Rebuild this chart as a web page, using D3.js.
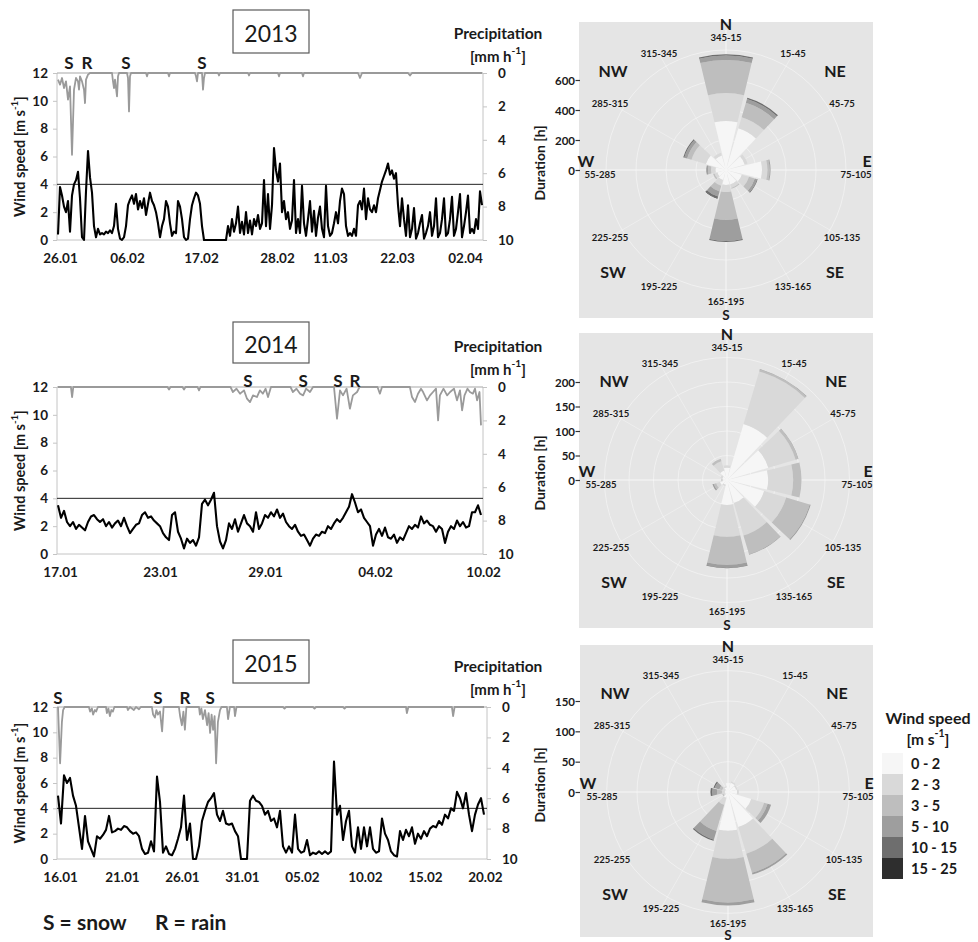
<!DOCTYPE html>
<html><head><meta charset="utf-8">
<script src="https://cdn.jsdelivr.net/npm/d3@7"></script>
<style>
body{margin:0;background:#fff;}
svg text{font-family:Lato,"Open Sans","DejaVu Sans",sans-serif;fill:#1a1a1a;}
</style></head><body>
<svg id="chart" width="978" height="942"></svg>
<script>
// ---------------- DATA ----------------
// Wind speed [m/s], 2013 (equal time steps)
const wind2013 = [0.4,3.8,3.2,2.4,2.0,2.8,0.6,3.2,4.0,4.3,
4.9,3.0,0.2,0.0,3.5,6.4,4.5,3.4,1.0,0.2,
0.8,0.4,0.5,0.4,0.6,0.5,0.7,0.5,1.0,2.6,
0.8,0.1,0.0,0.2,1.0,2.5,2.9,3.2,2.6,3.3,
2.2,2.8,2.3,3.0,1.8,2.6,3.4,2.8,2.5,2.0,
1.2,0.2,1.0,1.5,2.8,2.4,1.2,0.3,0.6,0.5,
2.8,2.4,1.5,0.2,0.0,0.1,1.5,2.5,3.0,3.4,
3.2,2.6,1.0,0.0,0.0,0.0,0.0,0.0,0.0,0.0,
0.0,0.0,0.0,0.0,0.0,1.0,0.3,1.5,0.6,1.2,
2.4,0.5,1.3,0.4,2.0,0.5,1.4,0.4,1.5,1.0,
1.8,0.8,1.2,4.3,1.0,3.3,0.8,2.5,6.6,5.0,
4.2,5.5,2.0,2.8,1.5,2.0,0.8,1.4,4.3,0.5,
1.5,0.5,3.9,1.2,0.3,1.5,2.8,0.6,2.1,0.3,
1.6,2.4,0.8,0.2,3.9,1.0,0.3,0.5,1.2,2.0,
1.2,2.8,3.7,3.3,1.0,0.3,0.5,0.3,0.8,0.3,
2.5,2.8,2.2,3.7,1.5,3.0,2.2,2.0,2.5,2.0,
3.0,3.6,4.2,4.6,5.0,5.5,4.7,5.0,4.4,4.8,
2.5,1.0,3.0,1.5,0.3,2.5,0.2,0.8,2.3,0.1,
0.5,1.2,1.8,0.1,0.5,1.0,2.0,0.3,1.0,3.0,
0.2,0.5,1.5,3.0,0.3,0.5,1.5,3.1,0.3,0.8,
2.0,3.3,0.2,1.0,2.0,3.2,0.5,0.8,0.5,1.5,
0.8,3.5,2.5];
// Precipitation [mm/h], 2013 : [time step, value]
const precip2013 = [[0,0.4],[1,0.7],[2,0.3],[3,0.9],[4,0.5],[5,1.6],[6,0.8],[7,4.9],[8,1.0],[9,0.3],[10,0.5],[10.5,1.0],[11,0.2],[12,0.5],[13,1.0],[13.5,1.8],[14,0.4],[15,0.1],[16,0],[27,0],[27.5,0.5],[28,0.9],[28.5,0.4],[29.5,1.4],[30,0.2],[30.5,0],[34.5,0],[35,0.3],[35.5,2.3],[36,0.2],[36.5,0],[44,0],[44.5,0.2],[45,0],[55,0],[55.5,0.2],[56,0],[68.5,0],[69,0.2],[69.5,0.5],[70,0],[72,0],[72.5,1.0],[73,0.3],[73.5,0],[80,0],[80.5,0.15],[81,0],[95,0],[95.5,0.15],[96,0],[110,0],[110.5,0.2],[111,0],[122,0],[122.5,0.2],[123,0],[150,0],[151,0.3],[152,0],[175,0],[176,0.15],[177,0],[212,0]];
const tickSteps2013 = [1,34.5,71.5,109.5,136,169.5,203.5];
const tickLabels2013 = ["26.01","06.02","17.02","28.02","11.03","22.03","02.04"];
const events2013 = [["S",5.5],["R",14.5],["S",34],["S",72]];

const wind2014 = [3.5,2.6,3.1,2.3,2.0,2.3,1.8,2.1,1.9,1.7,
2.3,2.7,2.8,2.5,2.3,2.5,2.0,2.3,1.9,2.2,
2.4,2.0,2.6,2.0,1.5,1.8,2.1,2.2,2.8,3.0,
2.6,2.7,2.4,2.2,2.0,1.5,1.2,1.0,2.8,3.0,
1.6,1.1,0.4,1.1,0.8,1.0,0.6,1.2,3.6,3.9,
3.5,3.9,4.4,2.0,0.9,0.4,1.0,2.2,1.8,2.5,
1.6,2.2,2.8,2.2,2.0,1.6,3.0,1.8,2.2,2.8,
2.6,3.0,2.7,3.2,2.6,2.9,2.3,2.0,1.8,2.1,
1.6,1.3,1.4,1.0,0.6,1.1,1.4,1.3,1.6,1.5,
2.0,1.8,2.2,2.5,2.3,2.6,3.0,3.4,4.3,3.7,
3.0,3.2,2.6,2.3,2.0,0.6,1.4,1.8,1.3,1.9,
1.2,1.1,1.4,0.8,1.2,1.0,1.5,2.0,1.8,2.1,
1.9,2.7,2.2,2.4,2.1,2.0,1.6,2.0,1.8,0.8,
1.6,2.0,1.8,2.4,2.0,2.3,1.9,2.0,3.0,3.0,
3.5,2.8];
const precip2014 = [[0,0],[4.3,0],[4.7,0.6],[5.1,0],[36.5,0],[37,0.15],[37.5,0],[41.5,0],[42,0.15],[42.5,0],[46.5,0],[47,0.2],[47.5,0],[57.5,0],[58.3,0.3],[59.5,0.1],[60.7,0.4],[62,0.2],[63,0.7],[64,0.9],[65,0.5],[66.3,0.6],[67.3,0.2],[68.3,0.4],[69.2,0.1],[70,0.6],[71,0],[77.5,0],[78.3,0.3],[79.5,0.1],[80.7,0.4],[81.7,0.5],[82.7,0.1],[84,0.3],[85,0],[92,0],[93,1.9],[94,0.2],[95,0.5],[96.2,0.1],[97.3,1.3],[98.3,0.5],[99.7,0.3],[100.5,0],[106.5,0],[107.3,0.4],[108,0],[117.3,0],[118,0.6],[119,0.9],[120,0.4],[121,0.1],[121.7,0.3],[123,0.8],[124,0.5],[125,0.3],[126,0.1],[126.7,2.0],[127.3,0.5],[128.5,0.1],[129.7,0.5],[130.7,0.3],[132,0.1],[133,0.8],[134,0.2],[134.7,1.4],[135.5,0.5],[136.5,0.1],[137.3,0.3],[138.3,0.4],[139,0.1],[139.7,0.8],[140.5,0.3],[141,2.3]];
const tickSteps2014 = [0.7,34,69,105.7,141.7];
const tickLabels2014 = ["17.01","23.01","29.01","04.02","10.02"];
const events2014 = [["S",63.3],["S",81.7],["S",93.3],["R",99]];

const wind2015 = [5.0,2.8,6.6,6.0,6.4,5.0,4.2,2.5,0.8,3.4,
1.4,0.8,0.2,1.8,1.6,1.9,2.3,3.4,2.1,2.2,
2.4,2.3,2.6,2.5,2.2,2.0,2.1,1.8,0.8,0.4,
0.5,1.4,0.6,6.5,4.5,0.5,1.0,0.4,0.3,0.8,
1.6,2.5,5.0,1.5,2.8,0.0,0.0,1.0,3.0,3.8,
4.5,4.8,5.2,3.5,3.0,3.8,2.8,2.7,2.8,2.2,
1.8,0.0,0.0,0.0,4.6,5.0,4.6,4.5,4.2,3.5,
3.8,3.0,3.2,2.5,3.8,1.0,0.5,1.0,0.5,3.5,
0.8,0.5,0.6,1.5,0.3,0.5,0.4,0.6,0.4,0.6,
0.4,0.6,7.7,3.5,4.2,1.5,3.0,3.8,1.0,0.5,
2.5,0.8,2.5,1.0,2.5,0.8,0.5,0.6,3.2,2.0,
1.5,0.6,0.3,0.2,2.2,1.5,2.3,1.8,2.5,1.2,
2.0,1.6,2.2,1.8,2.4,2.6,2.5,3.0,2.7,3.5,
3.2,4.0,3.8,5.3,4.8,4.0,5.2,3.5,2.2,3.5,
4.3,4.8,3.5];
const precip2015 = [[0,0],[0.7,3.7],[1.3,1.0],[1.7,0.2],[2.2,0],[10.3,0],[10.7,0.3],[11.3,0.1],[11.7,0.5],[12.3,0.2],[12.7,0.3],[13.3,0],[16,0],[16.3,0.4],[16.8,0.1],[17.3,0.6],[17.8,0.2],[18.3,0.3],[18.8,0],[23,0],[23.3,0.2],[24,0],[25.3,0.2],[26,0],[27,0.15],[27.6,0],[31.3,0],[31.7,0.5],[32.3,0.7],[32.8,0.2],[33.3,0.5],[34,0.3],[34.7,1.6],[35.2,0],[40.3,0],[40.7,0.6],[41.3,1.2],[41.8,0.3],[42.3,1.5],[42.8,0],[47,0],[47.3,0.5],[47.8,0.1],[48.3,0.8],[49,0.2],[49.7,1.2],[50.2,0.4],[50.7,1.7],[51.2,0.5],[51.7,1.5],[52.2,0.6],[52.7,3.7],[53.3,1.0],[54,0.2],[54.5,0],[56.3,0],[56.7,0.8],[57.3,0],[58.7,0],[59,0.6],[59.5,0],[75,0],[75.5,0.1],[76,0],[85,0],[85.5,0.1],[86,0],[95,0],[95.5,0.1],[96,0],[116,0],[116.3,0.4],[116.8,0],[131.3,0],[131.7,0.6],[132.2,0],[142,0]];
const tickSteps2015 = [0.7,21.3,41.3,61.3,81.3,102.3,122.3,142.3];
const tickLabels2015 = ["16.01","21.01","26.01","31.01","05.02","10.02","15.02","20.02"];
const events2015 = [["S",0],["S",33.3],["R",42.3],["S",50.7]];

// Wind roses: duration [h] per direction sector and wind-speed class
const sectorLabels = ["345-15","15-45","45-75","75-105","105-135","135-165","165-195","195-225","225-255","55-285","285-315","315-345"];
const compassLabels = ["N","NE","E","SE","S","SW","W","NW"];
const speedClasses = ["0 - 2","2 - 3","3 - 5","5 - 10","10 - 15","15 - 25"];
const rose2013 = [
 [327,186,220,30,8,0],[290,77,100,26,10,0],[130,20,0,0,0,0],[240,36,15,6,0,0],
 [110,50,40,15,5,0],[100,25,5,0,0,0],[100,47,186,140,7,0],[70,40,40,35,12,3],
 [60,20,10,0,0,0],[70,30,20,8,3,0],[140,100,30,20,7,0],[100,20,0,0,0,0]];
const rose2014 = [
 [25,5,0,0,0,0],[119,112,4,1,0,0],[88,58,5,1,0,0],[84,51,17,0,0,0],
 [79,47,50,2,0,0],[49,69,40,1,0,0],[51,65,57,6,1,0],[10,3,0,0,0,0],
 [15,8,5,3,0,0],[8,3,1,0,0,0],[10,4,0,0,0,0],[20,20,5,0,0,0]];
const rose2015 = [
 [15,0,0,0,0,0],[16,2,0,0,0,0],[14,2,0,0,0,0],[15,3,0,0,0,0],
 [40,22,6,6,0,0],[60,46,33,3,0,0],[64,46,72,5,0,0],[10,12,45,15,2,0],
 [5,3,2,0,0,0],[5,5,8,8,3,0],[5,5,5,8,2,0],[8,2,0,0,0,0]];
const roseTicks2013 = [0,200,400,600];
const roseTicks2014 = [0,50,100,150,200];
const roseTicks2015 = [0,50,100,150];

// ---------------- STYLE ----------------
const classColors = ["#f6f6f6","#d9d9d9","#bebebe","#9e9e9e","#6e6e6e","#2e2e2e"];
const axisGray = "#c4c4c4";
const svg = d3.select("#chart");

function supText(sel, base, sup, after, size) {
  sel.append("tspan").text(base);
  sel.append("tspan").attr("dy", -size*0.38).attr("font-size", size*0.68).text(sup);
  sel.append("tspan").attr("dy", size*0.38).text(after);
}

function linePanel(cfg, wind, precip, tSteps, tLabels, events, year) {
  const g = svg.append("g");
  const n = wind.length;
  const x = d3.scaleLinear().domain([0, n-1]).range([cfg.xStart, cfg.xStart + cfg.step*(n-1)]);
  const yW = d3.scaleLinear().domain([0,12]).range([cfg.y1, cfg.y0]);
  const yP = d3.scaleLinear().domain([0,10]).range([cfg.y0, cfg.y1]);

  // frame
  g.append("line").attr("x1",cfg.x0).attr("x2",cfg.x0).attr("y1",cfg.y0).attr("y2",cfg.y1).attr("stroke",axisGray);
  g.append("line").attr("x1",cfg.x1).attr("x2",cfg.x1).attr("y1",cfg.y0).attr("y2",cfg.y1).attr("stroke",axisGray);
  g.append("line").attr("x1",cfg.x0).attr("x2",cfg.x1).attr("y1",cfg.y1).attr("y2",cfg.y1).attr("stroke",axisGray);
  g.append("line").attr("x1",cfg.x0).attr("x2",cfg.x1).attr("y1",cfg.y0).attr("y2",cfg.y0).attr("stroke","#a8a8a8").attr("stroke-width",1.2);

  const styleAxis = a => {
    a.select(".domain").remove();
    a.selectAll(".tick line").attr("stroke",axisGray);
    a.selectAll(".tick text").attr("font-size",13.5).attr("font-weight","bold").attr("fill","#1a1a1a")
      .style("font-family",'Lato,"Open Sans",sans-serif');
  };
  g.append("g").attr("transform",`translate(${cfg.x0},0)`)
    .call(d3.axisLeft(yW).tickValues(d3.range(0,13,2)).tickSize(4).tickPadding(5)).call(styleAxis);
  g.append("g").attr("transform",`translate(${cfg.x1},0)`)
    .call(d3.axisRight(yP).tickValues(d3.range(0,11,2)).tickSize(4).tickPadding(11)).call(styleAxis);
  g.append("g").attr("transform",`translate(0,${cfg.y1})`)
    .call(d3.axisBottom(x).tickValues(tSteps).tickFormat((d,i)=>tLabels[i]).tickSize(0).tickPadding(13)).call(styleAxis);

  // precipitation (inverted, from top)
  g.append("path").datum(precip)
    .attr("d", d3.line().x(d=>x(d[0])).y(d=>yP(d[1])))
    .attr("fill","none").attr("stroke","#9a9a9a").attr("stroke-width",1.8).attr("stroke-linejoin","round");
  // 4 m/s reference line
  g.append("line").attr("x1",cfg.x0).attr("x2",cfg.x1).attr("y1",yW(4)).attr("y2",yW(4)).attr("stroke","#222").attr("stroke-width",1);
  // wind speed
  g.append("path").datum(wind)
    .attr("d", d3.line().x((d,i)=>x(i)).y(d=>yW(d)))
    .attr("fill","none").attr("stroke","#000").attr("stroke-width",2.1).attr("stroke-linejoin","round");

  // event labels
  g.selectAll(".ev").data(events).join("text")
    .attr("x", d=>x(d[1])).attr("y", cfg.evY).attr("text-anchor","middle").attr("dominant-baseline","central")
    .attr("font-size",17).attr("font-weight","bold").text(d=>d[0]);

  // year box
  g.append("rect").attr("x",233).attr("y",cfg.boxY).attr("width",76).attr("height",cfg.boxH)
    .attr("fill","#fff").attr("stroke","#5a5a5a").attr("stroke-width",1.2);
  g.append("text").attr("x",271).attr("y",cfg.boxY+cfg.boxH/2+1).attr("text-anchor","middle").attr("dominant-baseline","central")
    .attr("font-size",23).text(year);

  // titles
  g.append("text").attr("x",498).attr("y",cfg.precY).attr("text-anchor","middle").attr("dominant-baseline","central")
    .attr("font-size",15.5).attr("font-weight","bold").text("Precipitation");
  supText(g.append("text").attr("x",498).attr("y",cfg.precY+23).attr("text-anchor","middle").attr("dominant-baseline","central")
    .attr("font-size",15).attr("font-weight","bold"), "[mm h", "-1", "]", 15);
  supText(g.append("text").attr("transform",`translate(19,${(cfg.y0+cfg.y1)/2}) rotate(-90)`).attr("text-anchor","middle")
    .attr("dominant-baseline","central").attr("font-size",14.5).attr("font-weight","bold"), "Wind speed [m s", "-1", "]", 14.5);
}

function rosePanel(cfg, data, ticks) {
  const g = svg.append("g");
  g.append("rect").attr("x",cfg.bx).attr("y",cfg.by).attr("width",cfg.bw).attr("height",cfg.bh).attr("fill","#e5e5e5");
  const r = d3.scaleLinear().domain([0, ticks[ticks.length-1]]).range([0, cfg.rMax]);
  const c = g.append("g").attr("transform",`translate(${cfg.cx},${cfg.cy})`);
  // grid
  const step = ticks[1];
  const rings = d3.range(step, ticks[ticks.length-1] + step*cfg.extraRings + 1, step);
  c.selectAll(".ring").data(rings).join("circle").attr("r", d=>r(d))
    .attr("fill","none").attr("stroke","#fbfbfb").attr("stroke-width",1).attr("opacity",0.5);
  c.selectAll(".spoke").data(d3.range(12)).join("line")
    .attr("x1",0).attr("y1",0)
    .attr("x2", i=>140*Math.sin(i*Math.PI/6)).attr("y2", i=>-140*Math.cos(i*Math.PI/6))
    .attr("stroke","#fbfbfb").attr("stroke-width",1).attr("opacity",i=> i%3===0 ? 0.85 : 0.4);
  // stacked sectors
  const series = d3.stack().keys(d3.range(6))(data);
  const hw = 13.5*Math.PI/180;
  const arc = d3.arc();
  series.forEach((s,k) => {
    c.selectAll(".s"+k).data(s).join("path")
      .attr("d",(d,i)=> d[1]>d[0] ? arc({innerRadius:r(d[0]),outerRadius:r(d[1]),startAngle:i*Math.PI/6-hw,endAngle:i*Math.PI/6+hw}) : null)
      .attr("fill", classColors[k]);
  });
  // sector labels
  sectorLabels.forEach((t,i) => {
    let px = 134*Math.sin(i*Math.PI/6), py = -134*Math.cos(i*Math.PI/6);
    if (i===0) { py = -133; }
    if (i===3) { px = 130; py = 4; }
    if (i===6) { py = 131; }
    if (i===9) { px = -126; py = 4; }
    c.append("text").attr("x",px).attr("y",py).attr("text-anchor","middle").attr("dominant-baseline","central")
      .attr("font-size",9.5).attr("font-weight","bold").attr("fill","#2a2a2a").text(t);
  });
  const compPos = [[0,-147],[109,-100],[141,-10],[109,101],[0,cfg.sOff],[-113,101],[-140,-10],[-113,-100]];
  compassLabels.forEach((t,i) => {
    c.append("text").attr("x",compPos[i][0]).attr("y",compPos[i][1]).attr("text-anchor","middle").attr("dominant-baseline","central")
      .attr("font-size", i===4 ? cfg.sSize : 16).attr("font-weight","bold").text(t);
  });
  // radial axis ticks
  ticks.forEach(v => {
    const y = cfg.cy - r(v);
    g.append("text").attr("x",575).attr("y",y).attr("text-anchor","end").attr("dominant-baseline","central")
      .attr("font-size",11.5).attr("font-weight","bold").text(v);
    g.append("line").attr("x1",575.5).attr("x2",580).attr("y1",y+0.5).attr("y2",y+0.5).attr("stroke","#333").attr("stroke-width",1.2);
  });
  g.append("text").attr("transform",`translate(539,${cfg.cy-7}) rotate(-90)`).attr("text-anchor","middle")
    .attr("dominant-baseline","central").attr("font-size",14).attr("font-weight","bold").text("Duration [h]");
}

linePanel({x0:57,x1:483,y0:73,y1:240,xStart:58,step:2,evY:62,boxY:10,boxH:43,precY:33}, wind2013, precip2013, tickSteps2013, tickLabels2013, events2013, "2013");
linePanel({x0:57,x1:483,y0:387,y1:554,xStart:58,step:3,evY:380,boxY:322,boxH:41,precY:346}, wind2014, precip2014, tickSteps2014, tickLabels2014, events2014, "2014");
linePanel({x0:57,x1:487,y0:707,y1:859,xStart:58,step:3,evY:697,boxY:640,boxH:43,precY:666}, wind2015, precip2015, tickSteps2015, tickLabels2015, events2015, "2015");

rosePanel({bx:579,by:22,bw:294,bh:296,cx:726,cy:170,rMax:90,extraRings:1,sOff:144.5,sSize:13.5}, rose2013, roseTicks2013);
rosePanel({bx:579,by:333,bw:294,bh:295,cx:727,cy:480,rMax:98,extraRings:1,sOff:144.5,sSize:13.5}, rose2014, roseTicks2014);
rosePanel({bx:580,by:645,bw:293,bh:292,cx:728,cy:792,rMax:91,extraRings:1,sOff:143,sSize:13.5}, rose2015, roseTicks2015);

// legend
const lg = svg.append("g");
lg.append("text").attr("x",928).attr("y",717).attr("text-anchor","middle").attr("dominant-baseline","central")
  .attr("font-size",16).attr("font-weight","bold").text("Wind speed");
supText(lg.append("text").attr("x",928).attr("y",739).attr("text-anchor","middle").attr("dominant-baseline","central")
  .attr("font-size",15.5).attr("font-weight","bold"), "[m s", "-1", "]", 15.5);
const ly = d3.scaleBand().domain(speedClasses).range([753, 879]);
lg.selectAll("rect.lb").data(speedClasses).join("rect")
  .attr("x",882).attr("y",d=>ly(d)).attr("width",21).attr("height",ly.bandwidth())
  .attr("fill",(d,i)=>classColors[i]);
lg.selectAll("text.ll").data(speedClasses).join("text")
  .attr("x",911).attr("y",d=>ly(d)+ly.bandwidth()/2).attr("dominant-baseline","central")
  .attr("font-size",14.5).attr("font-weight","bold").text(d=>d);

// footnote
svg.append("text").attr("x",43).attr("y",921).attr("dominant-baseline","central").attr("font-size",21).attr("font-weight","bold").text("S = snow");
svg.append("text").attr("x",155).attr("y",921).attr("dominant-baseline","central").attr("font-size",21).attr("font-weight","bold").text("R = rain");
</script>
</body></html>
